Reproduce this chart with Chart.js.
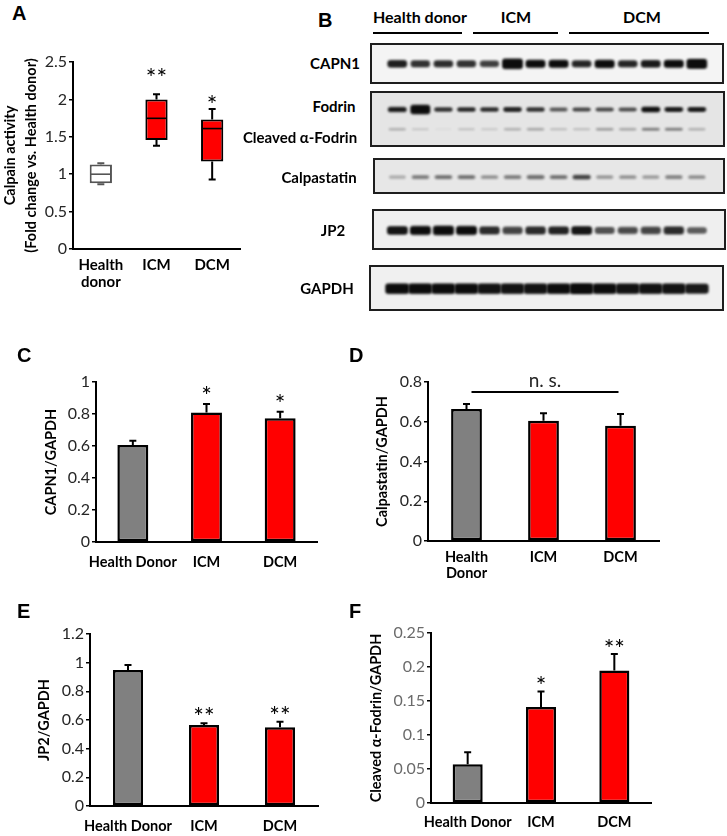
<!DOCTYPE html>
<html><head><meta charset="utf-8">
<script src="https://cdn.jsdelivr.net/npm/chart.js@4.4.1/dist/chart.umd.min.js"></script>
<style>
html,body{margin:0;padding:0;background:#fff;}
#root{position:relative;width:727px;height:836px;overflow:hidden;font-family:Lato,"Open Sans",sans-serif;color:#000;background:#fff;}
.letter{position:absolute;font:bold 20px "Liberation Sans",Arial,sans-serif;line-height:20px;}
.txt{position:absolute;font-weight:bold;white-space:nowrap;line-height:1;transform:translate(-50%,-50%);}
.blot{position:absolute;border:2px solid #1e1e1e;box-sizing:border-box;}
.blot canvas{display:block;}
.hline{position:absolute;height:2px;background:#000;}
</style></head>
<body><div id="root"></div>
<script>
// ================= DATA =================
// Panel A – calpain activity (box plot)
const boxCategories = [['Health','donor'], 'ICM', 'DCM'];
const calpainMin    = [0.865, 1.38, 0.93];
const calpainQ1     = [0.88, 1.457, 1.17];
const calpainMedian = [1.00, 1.747, 1.61];
const calpainQ3     = [1.13, 2.00, 1.73];
const calpainMax    = [1.145, 2.07, 1.87];
const calpainSig    = ['', '**', '*'];
const calpainTicks  = [0, 0.5, 1, 1.5, 2, 2.5];

// Panels C–F – densitometry bars
const barCategories        = ['Health Donor', 'ICM', 'DCM'];
const barCategoriesTwoLine = [['Health','Donor'], 'ICM', 'DCM'];
const capn1Mean  = [0.606, 0.810, 0.773];
const capn1Err   = [0.027, 0.053, 0.041];
const capn1Sig   = ['', '*', '*'];
const capn1Ticks = [0, 0.2, 0.4, 0.6, 0.8, 1];

const calpastatinMean  = [0.664, 0.605, 0.580];
const calpastatinErr   = [0.025, 0.038, 0.059];
const calpastatinNS    = 0.75;
const calpastatinTicks = [0, 0.2, 0.4, 0.6, 0.8];

const jp2Mean  = [0.949, 0.565, 0.549];
const jp2Err   = [0.035, 0.012, 0.039];
const jp2Sig   = ['', '**', '**'];
const jp2Ticks = [0, 0.2, 0.4, 0.6, 0.8, 1, 1.2];

const cleavedMean  = [0.057, 0.141, 0.195];
const cleavedErr   = [0.0175, 0.023, 0.024];
const cleavedSig   = ['', '*', '**'];
const cleavedTicks = [0, 0.05, 0.1, 0.15, 0.2, 0.25];

// Panel B – western blot band signals (relative darkness per lane)
const blotGroups     = ['Health donor', 'ICM', 'DCM'];
const blotGroupLanes = [4, 4, 6];
const blotLabels     = ['CAPN1', 'Fodrin', 'Cleaved α-Fodrin', 'Calpastatin', 'JP2', 'GAPDH'];
const capn1Bands       = [0.88, 0.8, 0.82, 0.8, 0.75, 1.25, 0.97, 0.97, 0.85, 1.0, 0.85, 0.9, 0.97, 1.2];
const fodrinBands      = [0.92, 1.6, 0.78, 0.82, 0.8, 0.84, 0.78, 0.62, 0.7, 0.68, 0.66, 0.95, 0.88, 0.88];
const cleavedBands     = [0.3, 0.15, 0.04, 0.17, 0.14, 0.3, 0.36, 0.2, 0.2, 0.42, 0.35, 0.52, 0.52, 0.3];
const calpastatinBands = [0.25, 0.45, 0.5, 0.5, 0.38, 0.45, 0.55, 0.5, 0.72, 0.35, 0.38, 0.33, 0.42, 0.4];
const jp2Bands         = [0.92, 0.98, 1.02, 0.98, 0.82, 0.72, 0.82, 0.86, 0.92, 0.66, 0.7, 0.72, 0.82, 0.62];
const gapdhBands       = [0.97, 0.96, 0.96, 0.96, 0.93, 0.93, 0.93, 0.96, 0.98, 0.96, 0.93, 0.93, 0.93, 0.9];

// ================= LAYOUT / STYLE =================
const root = document.getElementById('root');
const FONT = 'Lato';
const RED = '#ff0000', GREY = '#808080';
const STAR_FONT = `25px ${FONT}`;

function addCanvas(left, top, w, h, parent) {
  const c = document.createElement('canvas');
  c.width = w; c.height = h;
  c.style.cssText = `position:absolute;left:${left}px;top:${top}px;width:${w}px;height:${h}px;`;
  (parent || root).appendChild(c);
  return c;
}
function addDiv(cls, text, css) {
  const d = document.createElement('div');
  d.className = cls; d.textContent = text; d.style.cssText = css;
  root.appendChild(d); return d;
}

function starBaseline(ctx, txt, centerY) {
  const m = ctx.measureText(txt);
  return centerY - (m.actualBoundingBoxDescent - m.actualBoundingBoxAscent) / 2;
}

function yScale(o) {
  return {
    min: 0, max: o.ticks[o.ticks.length - 1],
    afterBuildTicks(s) { s.ticks = o.ticks.map(v => ({ value: v })); },
    afterFit(s) { s.width = o.axisW; },
    ticks: { color: o.tickColor || '#262626', font: { family: FONT, size: 16 }, padding: 2,
             callback: v => String(+(+v).toFixed(3)) },
    grid: { drawOnChartArea: false, drawTicks: true, tickLength: 4, color: '#000', lineWidth: 1.5 },
    border: { color: '#000', width: 2 },
    title: { display: true, text: o.title, color: '#000',
             font: { family: FONT, weight: 'bold', size: o.titleSize || 14.5, lineHeight: o.titleLH || 1.2 },
             padding: { top: o.titlePad, bottom: 0 } }
  };
}
function xScale(o) {
  return {
    afterFit(s) { s.height = o.axisH; },
    ticks: { color: '#000', font: { family: FONT, weight: 'bold', size: o.size || 14.5, lineHeight: o.lh || 1.2 },
             padding: o.pad, maxRotation: 0, minRotation: 0, autoSkip: false },
    grid: { display: false, drawTicks: false },
    border: { color: '#000', width: 2 }
  };
}

const barExtras = {
  id: 'barExtras',
  afterDatasetsDraw(chart, args, o) {
    const ctx = chart.ctx, ys = chart.scales.y;
    const meta = chart.getDatasetMeta(0), vals = chart.data.datasets[0].data;
    ctx.save();
    ctx.strokeStyle = '#000'; ctx.lineWidth = 2;
    meta.data.forEach((bar, i) => {
      const yTop = ys.getPixelForValue(vals[i] + o.err[i]);
      const yBase = ys.getPixelForValue(vals[i]);
      ctx.beginPath();
      ctx.moveTo(bar.x, yBase); ctx.lineTo(bar.x, yTop);
      ctx.moveTo(bar.x - 3.5, yTop); ctx.lineTo(bar.x + 3.5, yTop);
      ctx.stroke();
      if (o.sig && o.sig[i]) {
        ctx.fillStyle = '#000';
        ctx.font = STAR_FONT;
        ctx.textAlign = 'center';
        ctx.textBaseline = 'alphabetic';
        ctx.fillText(o.sig[i], bar.x, starBaseline(ctx, o.sig[i], yTop - o.gap));
      }
    });
    if (o.ns != null) {
      const y = ys.getPixelForValue(o.ns);
      const x0 = meta.data[0].x + 5, x1 = meta.data[meta.data.length - 1].x - 2;
      ctx.beginPath(); ctx.moveTo(x0, y); ctx.lineTo(x1, y); ctx.stroke();
      ctx.fillStyle = '#262626';
      ctx.font = `19px ${FONT}`;
      ctx.textAlign = 'center'; ctx.textBaseline = 'alphabetic';
      ctx.fillText('n. s.', (x0 + x1) / 2, y - 5);
    }
    ctx.restore();
  }
};

function barChart(o) {
  const c = addCanvas(o.left, o.top, o.w, o.h);
  return new Chart(c, {
    type: 'bar',
    data: { labels: o.labels, datasets: [{ data: o.values, backgroundColor: [GREY, RED, RED],
      borderColor: '#000', borderWidth: 2.5, borderSkipped: false,
      barPercentage: o.barPct, categoryPercentage: 1 }] },
    options: {
      responsive: false, animation: false, events: [],
      layout: { padding: { left: 0, top: o.padTop, right: o.padRight, bottom: 0 } },
      plugins: { legend: { display: false }, tooltip: { enabled: false },
                 barExtras: { err: o.err, sig: o.sig, gap: o.gap || 13, ns: o.ns } },
      scales: { x: xScale(o.x), y: yScale(o.y) }
    },
    plugins: [barExtras]
  });
}

// ---- Panel A: box plot ----
const boxExtras = {
  id: 'boxExtras',
  afterDatasetsDraw(chart, args, o) {
    const ctx = chart.ctx, ys = chart.scales.y;
    const meta = chart.getDatasetMeta(0);
    ctx.save();
    meta.data.forEach((bar, i) => {
      const col = i === 0 ? '#555555' : '#000';
      const half = bar.width / 2;
      ctx.strokeStyle = col; ctx.lineWidth = 1.6;
      ctx.beginPath();
      const ym = ys.getPixelForValue(calpainMedian[i]);
      ctx.moveTo(bar.x - half + 1, ym); ctx.lineTo(bar.x + half - 1, ym);
      ctx.stroke();
      ctx.lineWidth = 2;
      const yq3 = ys.getPixelForValue(calpainQ3[i]), yMax = ys.getPixelForValue(calpainMax[i]);
      const yq1 = ys.getPixelForValue(calpainQ1[i]), yMin = ys.getPixelForValue(calpainMin[i]);
      ctx.beginPath();
      ctx.moveTo(bar.x, yq3); ctx.lineTo(bar.x, yMax);
      ctx.moveTo(bar.x - 3.5, yMax); ctx.lineTo(bar.x + 3.5, yMax);
      ctx.moveTo(bar.x, yq1); ctx.lineTo(bar.x, yMin);
      ctx.moveTo(bar.x - 3.5, yMin); ctx.lineTo(bar.x + 3.5, yMin);
      ctx.stroke();
      if (calpainSig[i]) {
        ctx.fillStyle = '#000'; ctx.font = STAR_FONT;
        ctx.textAlign = 'center'; ctx.textBaseline = 'alphabetic';
        ctx.fillText(calpainSig[i], bar.x, starBaseline(ctx, calpainSig[i], yMax - o.gaps[i]));
      }
    });
    ctx.restore();
  }
};
(function () {
  const c = addCanvas(0, 40, 250, 260);
  new Chart(c, {
    type: 'bar',
    data: { labels: boxCategories, datasets: [{
      data: calpainQ1.map((q, i) => [q, calpainQ3[i]]),
      backgroundColor: ['#ffffff', RED, RED], borderColor: ['#555555', '#000', '#000'],
      borderWidth: 2, borderSkipped: false, barPercentage: 0.4, categoryPercentage: 1 }] },
    options: {
      responsive: false, animation: false, events: [],
      layout: { padding: { left: 0, top: 22, right: 10, bottom: 0 } },
      plugins: { legend: { display: false }, tooltip: { enabled: false }, boxExtras: { gaps: [0, 23, 11] } },
      scales: {
        x: xScale({ axisH: 51, pad: 8, size: 15, lh: 1.1 }),
        y: yScale({ ticks: calpainTicks, axisW: 73, title: ['Calpain activity', '(Fold change vs. Health donor)'],
                    titlePad: 0, titleLH: 1.45, titleSize: 14.5 })
      }
    },
    plugins: [boxExtras]
  });
})();

// ---- Panel C ----
barChart({ left: 0, top: 360, w: 340, h: 220, padTop: 22, padRight: 23, barPct: 0.42,
  labels: barCategories, values: capn1Mean, err: capn1Err, sig: capn1Sig, gap: 14,
  x: { axisH: 38, pad: 12 },
  y: { ticks: capn1Ticks, axisW: 96, title: 'CAPN1/GAPDH', titlePad: 43 } });

// ---- Panel D ----
barChart({ left: 360, top: 360, w: 367, h: 230, padTop: 22, padRight: 68, barPct: 0.40,
  labels: barCategoriesTwoLine, values: calpastatinMean, err: calpastatinErr, ns: calpastatinNS,
  x: { axisH: 49, pad: 9, lh: 1.07 },
  y: { ticks: calpastatinTicks, axisW: 68, title: 'Calpastatin/GAPDH', titlePad: 14 } });

// ---- Panel E ----
barChart({ left: 0, top: 612, w: 340, h: 224, padTop: 22, padRight: 22, barPct: 0.395,
  labels: barCategories, values: jp2Mean, err: jp2Err, sig: jp2Sig, gap: 12.5,
  x: { axisH: 30, pad: 12 },
  y: { ticks: jp2Ticks, axisW: 90, title: 'JP2/GAPDH', titlePad: 36 } });

// ---- Panel F ----
barChart({ left: 360, top: 612, w: 367, h: 224, padTop: 21, padRight: 76, barPct: 0.41,
  labels: barCategories, values: cleavedMean, err: cleavedErr, sig: cleavedSig, gap: 12,
  x: { axisH: 33, pad: 11 },
  y: { ticks: cleavedTicks, axisW: 71, title: 'Cleaved α-Fodrin/GAPDH', titlePad: 8, tickColor: '#6b6b6b' } });

// ---- Panel B: western blot drawn as scatter of band glyphs ----
const laneX0 = 391, laneDX = 24;
const blotLayout = [
  { rect: [370, 43, 724, 84],  bg: '#f4f4f4', rows: [{ bands: capn1Bands, y: 64, w: 20, h: 7.5 }] },
  { rect: [370, 91, 725, 147], bg: '#e5e5e5', rows: [{ bands: fodrinBands, y: 106, w: 19, h: 5 },
                                                    { bands: cleavedBands, y: 133, w: 19, h: 3.2 }] },
  { rect: [373, 158, 725, 194], bg: '#e7e7e7', rows: [{ bands: calpastatinBands, y: 178, w: 19, h: 5.5 }] },
  { rect: [372, 209, 726, 250], bg: '#efefef', rows: [{ bands: jp2Bands, y: 231, w: 21, h: 8.5 }] },
  { rect: [369, 265, 724, 311], bg: '#f0f0f0', rows: [{ bands: gapdhBands, y: 289, w: 24, h: 10 }] }
];
const labelLayout = [[335, 63], [334, 106], [300, 137], [319, 177], [333, 230], [327, 288]];
const groupLayout = [[420, 17, 373, 462], [516, 17, 473, 558], [642, 17, 569, 709]];

function bandImage(I, w, h) {
  const s = 0.6 + 0.5 * I * I;
  const bw = w * (0.85 + 0.15 * Math.min(I, 1.3)), bh = h * s;
  const pad = 4;
  const c = document.createElement('canvas');
  c.width = Math.ceil(bw + pad * 2); c.height = Math.ceil(bh + pad * 2);
  const g = c.getContext('2d');
  g.filter = 'blur(1.1px)';
  g.fillStyle = `rgba(12,12,12,${Math.min(1, I * 1.05)})`;
  g.beginPath();
  g.roundRect((c.width - bw) / 2, (c.height - bh) / 2, bw, bh, Math.min(bh / 2, 3));
  g.fill();
  return c;
}

blotLayout.forEach(b => {
  const [L, T, R, B] = b.rect;
  const box = document.createElement('div');
  box.className = 'blot';
  box.style.cssText = `left:${L}px;top:${T}px;width:${R - L}px;height:${B - T}px;background:${b.bg};`;
  root.appendChild(box);
  const iw = R - L - 4, ih = B - T - 4;
  const c = addCanvas(0, 0, iw, ih, box);
  c.style.position = 'static';
  const innerL = L + 2, innerT = T + 2;
  new Chart(c, {
    type: 'scatter',
    data: { datasets: b.rows.map(r => ({
      data: r.bands.map((v, i) => ({ x: i, y: (r.y - innerT) / ih })),
      pointStyle: r.bands.map(v => bandImage(v, r.w, r.h)),
      pointRadius: 6
    })) },
    options: {
      responsive: false, animation: false, events: [],
      layout: { padding: 0 },
      plugins: { legend: { display: false }, tooltip: { enabled: false } },
      scales: {
        x: { type: 'linear', display: false, min: (innerL - laneX0) / laneDX, max: (innerL + iw - laneX0) / laneDX },
        y: { type: 'linear', display: false, min: 0, max: 1, reverse: true }
      }
    }
  });
});

blotLabels.forEach((t, i) => {
  addDiv('txt', t, `left:${labelLayout[i][0]}px;top:${labelLayout[i][1]}px;font-size:15px;`);
});
blotGroups.forEach((t, i) => {
  const g = groupLayout[i];
  addDiv('txt', t, `left:${g[0]}px;top:${g[1]}px;font-size:16px;`);
  addDiv('hline', '', `left:${g[2]}px;top:${32}px;width:${g[3] - g[2]}px;`);
});

// ---- Panel letters ----
[['A', 12, 3], ['B', 318, 10], ['C', 17, 345], ['D', 349, 345], ['E', 17, 601], ['F', 349, 601]]
  .forEach(([t, x, y]) => addDiv('letter', t, `left:${x}px;top:${y}px;`));
</script>
</body></html>
